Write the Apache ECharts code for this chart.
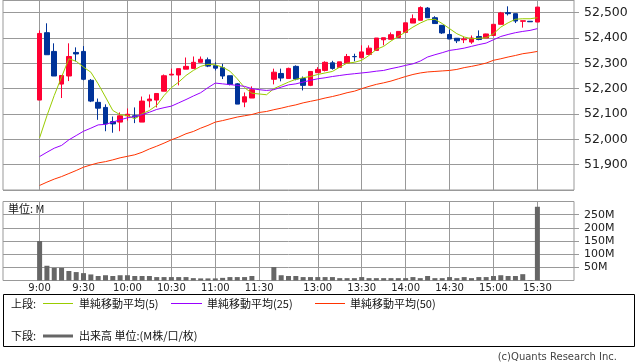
<!DOCTYPE html>
<html><head><meta charset="utf-8">
<script src="https://cdn.jsdelivr.net/npm/echarts@6/dist/echarts.min.js"></script>
<style>html,body{margin:0;padding:0;background:#fff}#c{width:638px;height:362px}</style>
</head><body><div id="c"></div>
<script>
// ---- data ----
const times = ['9:00','9:05','9:10','9:15','9:20','9:25','9:30','9:35','9:40','9:45','9:50','9:55',
 '10:00','10:05','10:10','10:15','10:20','10:25','10:30','10:35','10:40','10:45','10:50','10:55',
 '11:00','11:05','11:10','11:15','11:20','11:25','11:30','--',
 '12:30','12:35','12:40','12:45','12:50','12:55','13:00','13:05','13:10','13:15','13:20','13:25',
 '13:30','13:35','13:40','13:45','13:50','13:55','14:00','14:05','14:10','14:15','14:20','14:25',
 '14:30','14:35','14:40','14:45','14:50','14:55','15:00','15:05','15:10','15:15','15:20','15:25','15:30'];
const tickLabels = ['9:00','9:30','10:00','10:30','11:00','11:30','13:00','13:30','14:00','14:30','15:00','15:30'];
const openP = [52155,52421,52347,52218,52250,52343,52347,52233,52146,52126,52070,52068,52093,52093,52068,52152,52155,52190,52254,52254,52277,52280,52304,52314,52291,52283,52251,52219,52147,52163,null,null,
 52237,52260,52240,52288,52240,52213,52263,52272,52302,52284,52301,52327,52322,52335,52351,52393,52395,52402,52422,52459,52470,52518,52480,52450,52414,52399,52393,52384,52406,52400,52410,52454,52500,52496,52466,52466,52463];
const closeP = [52418,52334,52250,52252,52327,52337,52237,52151,52123,52061,52061,52093,52099,52088,52151,52159,52181,52251,52257,52279,52288,52304,52316,52289,52281,52250,52217,52139,52168,52196,null,null,
 52265,52242,52280,52238,52213,52268,52276,52304,52280,52306,52327,52326,52345,52360,52400,52401,52413,52426,52460,52476,52520,52480,52457,52420,52396,52389,52396,52400,52394,52416,52454,52499,52496,52467,52468,52464,52522];
const lowP = [52155,52334,52250,52163,52230,52308,52233,52147,52077,52032,52026,52032,52074,52064,52068,52126,52126,52190,52254,52213,52277,52280,52304,52285,52272,52238,52213,52139,52127,52163,null,null,
 52217,52229,52240,52233,52193,52210,52263,52268,52275,52284,52298,52308,52322,52335,52351,52371,52395,52402,52422,52459,52470,52480,52457,52416,52396,52380,52380,52377,52391,52400,52410,52454,52489,52459,52441,52464,52463];
const highP = [52430,52458,52379,52252,52379,52363,52368,52238,52161,52138,52090,52106,52122,52126,52169,52177,52181,52256,52279,52279,52323,52327,52327,52323,52304,52298,52251,52222,52185,52209,null,null,
 52279,52279,52283,52292,52248,52268,52285,52308,52310,52306,52337,52338,52371,52371,52400,52401,52422,52426,52460,52493,52525,52522,52486,52450,52433,52399,52404,52410,52430,52417,52454,52503,52525,52496,52468,52466,52522];
const ma5 = [52006,52093,52173,52246,52318,52308,52285,52265,52219,52167,52114,52097,52094,52081,52101,52114,52134,52173,52204,52226,
 52252,52272,52288,52296,52294,52285,52269,52239,52204,52182,52179,52176,52200,52213,52226,52237,52243,52248,52256,52262,
 52268,52285,52301,52304,52312,52331,52355,52367,52388,52406,52424,52443,52459,52472,52474,52457,52437,52417,52404,52397,
 52399,52401,52417,52443,52460,52474,52476,52476,52480];
const ma25 = [51932,51949,51965,51976,51998,52015,52032,52044,52057,52059,52068,52077,52085,52090,52097,52107,52118,52125,52131,52144,
 52157,52171,52184,52204,52222,52219,52216,52213,52209,52200,52196,52193,52196,52206,52215,52219,52226,52233,52239,52243,
 52248,52252,52256,52259,52262,52265,52269,52272,52279,52285,52292,52298,52309,52325,52334,52342,52351,52355,52360,52367,
 52374,52380,52393,52406,52414,52421,52426,52430,52437];
const ma50 = [51818,51831,51843,51853,51865,51877,51890,51899,51907,51912,51919,51927,51933,51939,51949,51962,51973,51985,51998,52009,
 52022,52031,52044,52055,52068,52074,52081,52088,52093,52098,52106,52110,52117,52123,52130,52136,52144,52150,52156,52163,
 52169,52176,52184,52190,52200,52209,52217,52223,52230,52239,52248,52256,52262,52266,52268,52270,52272,52276,52283,52288,
 52294,52301,52312,52318,52325,52331,52338,52342,52347];
const volumeM = [150,56,48,48,36,32,28,23,17,20,17,20,20,17,17,17,13,13,13,13,
 13,9,8,8,8,10,13,13,13,17,2,null,51,20,17,17,13,13,13,13,
 13,9,9,9,13,9,9,9,9,9,9,13,9,17,9,9,13,9,13,9,
 13,13,17,20,17,17,24,2,280];

// ---- build ----
const PAD = 5;
const padL = Array.from({length: PAD}, (_, k) => '_l' + k);
const padR = Array.from({length: PAD}, (_, k) => '_r' + k);
const cats = padL.concat(times, padR);
const padNull = Array(PAD).fill('-');
const padArr = a => padNull.concat(a.map(v => v == null ? '-' : v), padNull);
const emptyC = ['-', '-', '-', '-'];
const candles = Array(PAD).fill(emptyC).concat(
  times.map((t, i) => openP[i] == null ? emptyC : [openP[i], closeP[i], lowP[i], highP[i]]),
  Array(PAD).fill(emptyC));
const isTick = (idx, v) => tickLabels.indexOf(v) >= 0;
const GRID = '#999999';
const NUMF = 'DejaVu Sans';
const JPF = '"Noto Sans CJK JP", sans-serif';

const chart = echarts.init(document.getElementById('c'), null, {renderer: 'canvas'});
chart.setOption({
  animation: false,
  backgroundColor: '#fff',
  grid: [
    {left: 3, top: 0, width: 571, height: 190, show: true, borderColor: GRID, borderWidth: 1},
    {left: 3, top: 201.5, width: 571, height: 79, show: true, borderColor: GRID, borderWidth: 1}
  ],
  xAxis: [
    {type: 'category', gridIndex: 0, data: cats, boundaryGap: false,
     axisLine: {show: false}, axisTick: {show: false}, axisLabel: {show: false},
     splitLine: {show: true, interval: isTick, lineStyle: {color: GRID, width: 1}}},
    {type: 'category', gridIndex: 1, data: cats, boundaryGap: false,
     axisLine: {show: false}, axisTick: {show: false},
     axisLabel: {show: true, interval: isTick, margin: 3, fontSize: 10, color: '#222', fontFamily: NUMF},
     splitLine: {show: true, interval: isTick, lineStyle: {color: GRID, width: 1}}}
  ],
  yAxis: [
    {type: 'value', gridIndex: 0, position: 'right', min: 51800, max: 52550, interval: 100,
     axisLine: {show: false}, axisTick: {show: true, length: 5, lineStyle: {color: GRID}},
     axisLabel: {margin: 10, fontSize: 12.5, color: '#222', fontFamily: NUMF, showMinLabel: false, showMaxLabel: false,
       formatter: v => v.toLocaleString('en-US')},
     splitLine: {show: true, lineStyle: {color: GRID, width: 1}}},
    {type: 'value', gridIndex: 1, position: 'right', min: 0, max: 300, interval: 50,
     axisLine: {show: false}, axisTick: {show: true, length: 5, lineStyle: {color: GRID}},
     axisLabel: {margin: 10, fontSize: 11, color: '#222', fontFamily: NUMF, showMinLabel: false, showMaxLabel: false,
       formatter: v => v + 'M'},
     splitLine: {show: true, lineStyle: {color: GRID, width: 1}}}
  ],
  series: [
    {type: 'candlestick', xAxisIndex: 0, yAxisIndex: 0, data: candles, barWidth: 5,
     itemStyle: {color: '#ff0033', color0: '#003399', borderColor: '#ff0033', borderColor0: '#003399', borderWidth: 1}},
    {type: 'line', name: 'ma5', xAxisIndex: 0, yAxisIndex: 0, data: padArr(ma5), showSymbol: false, symbol: 'none',
     lineStyle: {color: '#99cc00', width: 1}, z: 3},
    {type: 'line', name: 'ma25', xAxisIndex: 0, yAxisIndex: 0, data: padArr(ma25), showSymbol: false, symbol: 'none',
     lineStyle: {color: '#9900ff', width: 1}, z: 3},
    {type: 'line', name: 'ma50', xAxisIndex: 0, yAxisIndex: 0, data: padArr(ma50), showSymbol: false, symbol: 'none',
     lineStyle: {color: '#ff3300', width: 1}, z: 3},
    {type: 'bar', xAxisIndex: 1, yAxisIndex: 1, data: padArr(volumeM), barWidth: 5, itemStyle: {color: '#666666'}}
  ],
  graphic: [
    {type: 'text', left: 8, top: 203, style: {text: '単位: M', font: '11px ' + JPF, fill: '#111'}},
    {type: 'rect', shape: {x: 3.5, y: 294.5, width: 631, height: 52}, style: {fill: 'none', stroke: '#000', lineWidth: 1}},
    {type: 'text', x: 11, y: 303.5, style: {text: '上段:', font: '11px ' + JPF, fill: '#111', textVerticalAlign: 'middle'}},
    {type: 'line', shape: {x1: 43, y1: 303.5, x2: 73, y2: 303.5}, style: {stroke: '#99cc00', lineWidth: 1}},
    {type: 'text', x: 79, y: 303.5, style: {text: '単純移動平均(5)', font: '11px ' + JPF, fill: '#111', textVerticalAlign: 'middle'}},
    {type: 'line', shape: {x1: 171, y1: 303.5, x2: 202, y2: 303.5}, style: {stroke: '#9900ff', lineWidth: 1}},
    {type: 'text', x: 207, y: 303.5, style: {text: '単純移動平均(25)', font: '11px ' + JPF, fill: '#111', textVerticalAlign: 'middle'}},
    {type: 'line', shape: {x1: 315, y1: 303.5, x2: 345, y2: 303.5}, style: {stroke: '#ff3300', lineWidth: 1}},
    {type: 'text', x: 350, y: 303.5, style: {text: '単純移動平均(50)', font: '11px ' + JPF, fill: '#111', textVerticalAlign: 'middle'}},
    {type: 'text', x: 11, y: 336, style: {text: '下段:', font: '11px ' + JPF, fill: '#111', textVerticalAlign: 'middle'}},
    {type: 'line', shape: {x1: 43, y1: 336, x2: 73, y2: 336}, style: {stroke: '#666666', lineWidth: 3}},
    {type: 'text', x: 79, y: 336, style: {text: '出来高 単位:(M株/口/枚)', font: '11px ' + JPF, fill: '#111', textVerticalAlign: 'middle'}},
    {type: 'text', x: 617, y: 357, style: {text: '(c)Quants Research Inc.', font: '10px ' + NUMF, fill: '#444', textAlign: 'right', textVerticalAlign: 'middle'}}
  ]
});
</script></body></html>
